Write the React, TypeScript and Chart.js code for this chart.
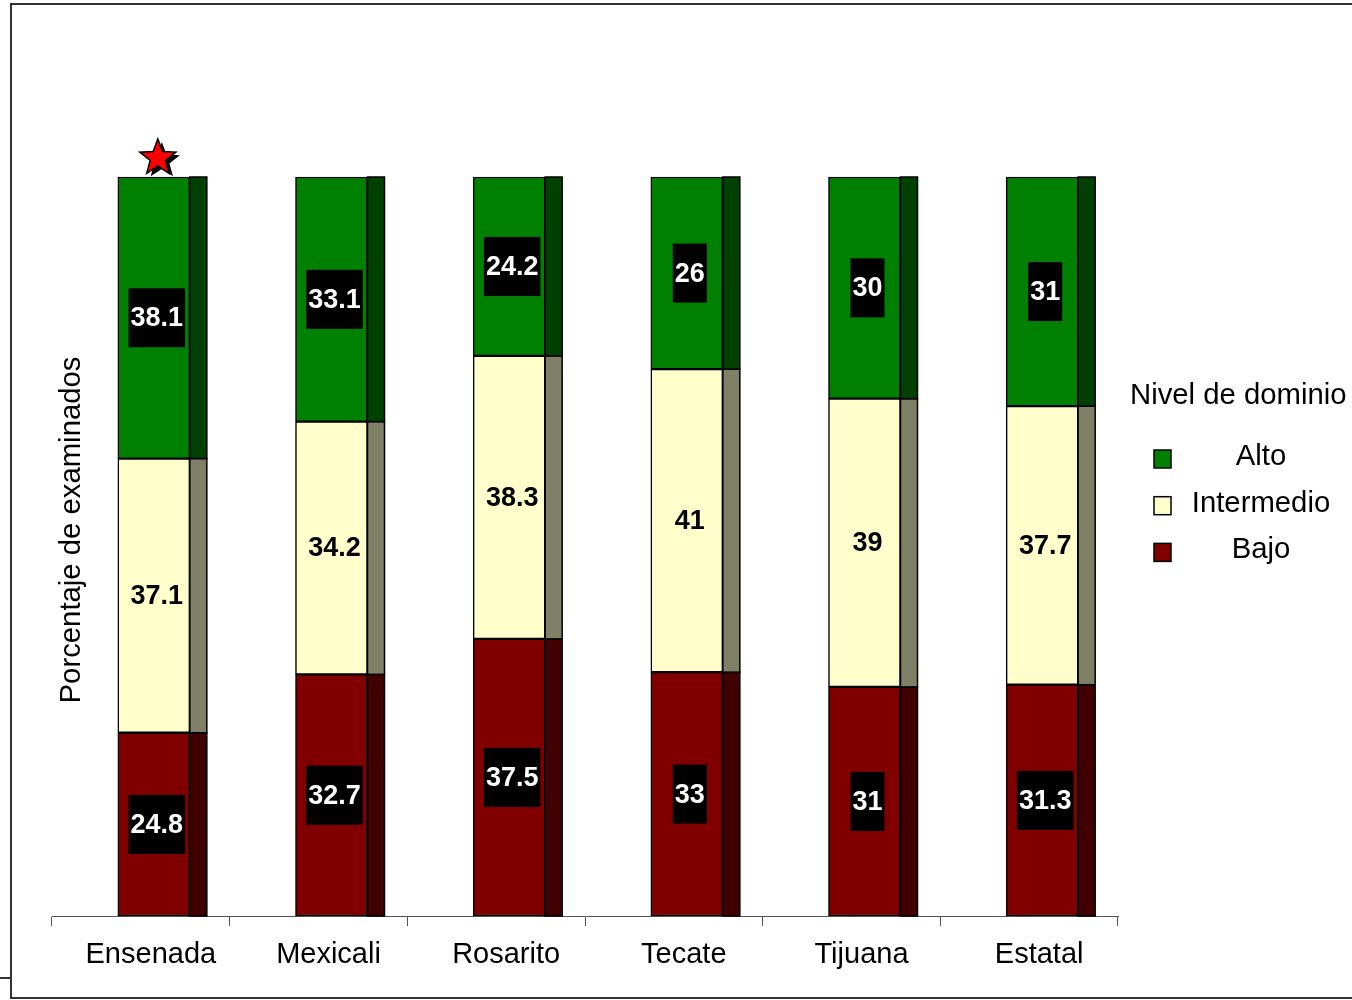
import React, { useEffect, useRef } from "react";
import { Chart, registerables } from "chart.js";

Chart.register(...registerables);

// ---------- data ----------
const categories = ["Ensenada", "Mexicali", "Rosarito", "Tecate", "Tijuana", "Estatal"];
const seriesNames = ["Bajo", "Intermedio", "Alto"];
const bajo = [24.8, 32.7, 37.5, 33, 31, 31.3];
const intermedio = [37.1, 34.2, 38.3, 41, 39, 37.7];
const alto = [38.1, 33.1, 24.2, 26, 30, 31];
const starredCategories = ["Ensenada"];
const legendTitle = "Nivel de dominio";
const yAxisTitle = "Porcentaje de examinados";
const yMin = 0;
const yMax = 100;

// ---------- styles ----------
const FONT = '"Liberation Sans", Arial, Helvetica, sans-serif';
const frontColors = ["#800000", "#FFFFCC", "#008000"];
const sideColors = ["#400000", "#808066", "#004000"];
const labelBoxed = [true, false, true];
const BAR_SHIFT = 13;
const SIDE_W = 17;
const BAR_W = 72;

function drawStar(ctx: CanvasRenderingContext2D, cx: number, cy: number, R: number, r: number) {
  ctx.beginPath();
  for (let i = 0; i < 10; i++) {
    const rad = i % 2 === 0 ? R : r;
    const a = -Math.PI / 2 + (i * Math.PI) / 5;
    const px = cx + rad * Math.cos(a);
    const py = cy + rad * Math.sin(a);
    if (i === 0) ctx.moveTo(px, py);
    else ctx.lineTo(px, py);
  }
  ctx.closePath();
}

const barDecor = {
  id: "barDecor",
  beforeDatasetsDraw(chart: any) {
    chart.ctx.save();
    chart.ctx.translate(BAR_SHIFT, 0);
  },
  afterDatasetsDraw(chart: any) {
    const ctx: CanvasRenderingContext2D = chart.ctx;
    // side faces
    chart.data.datasets.forEach((ds: any, di: number) => {
      const meta = chart.getDatasetMeta(di);
      meta.data.forEach((bar: any) => {
        const { x, y, base, width } = bar.getProps(["x", "y", "base", "width"], true);
        const right = x + width / 2;
        const top = Math.min(y, base);
        const h = Math.abs(base - y);
        ctx.fillStyle = sideColors[di];
        ctx.fillRect(right, top, SIDE_W, h);
        ctx.strokeStyle = "#000";
        ctx.lineWidth = 1.5;
        ctx.strokeRect(right, top, SIDE_W, h);
      });
    });
    // value labels
    ctx.font = `bold 27px ${FONT}`;
    ctx.textAlign = "center";
    ctx.textBaseline = "middle";
    chart.data.datasets.forEach((ds: any, di: number) => {
      const meta = chart.getDatasetMeta(di);
      meta.data.forEach((bar: any, i: number) => {
        const { x, y, base } = bar.getProps(["x", "y", "base"], true);
        const txt = String(ds.data[i]);
        const cx = x + 3;
        const cy = (y + base) / 2;
        if (labelBoxed[di]) {
          const w = ctx.measureText(txt).width + 4;
          const h = 59;
          ctx.fillStyle = "#000";
          ctx.fillRect(cx - w / 2, cy - h / 2, w, h);
          ctx.fillStyle = "#fff";
        } else {
          ctx.fillStyle = "#000";
        }
        ctx.fillText(txt, cx, cy + 1);
      });
    });
    // star marker on top of selected bars
    const topIdx = chart.data.datasets.length - 1;
    const topMeta = chart.getDatasetMeta(topIdx);
    starredCategories.forEach((c) => {
      const i = chart.data.labels.indexOf(c);
      if (i < 0) return;
      const bar = topMeta.data[i];
      const { x, y } = bar.getProps(["x", "y"], true);
      const cx = x + 4;
      const cy = y - 19;
      ctx.fillStyle = "#000";
      drawStar(ctx, cx + 4, cy + 3, 19, 8);
      ctx.fill();
      ctx.fillStyle = "#FF0000";
      ctx.strokeStyle = "#000";
      ctx.lineWidth = 1.5;
      drawStar(ctx, cx, cy, 19, 8);
      ctx.fill();
      ctx.stroke();
    });
    ctx.restore();
  },
};

const extras = {
  id: "extras",
  afterDraw(chart: any) {
    const ctx: CanvasRenderingContext2D = chart.ctx;
    // y axis title
    ctx.save();
    ctx.translate(72, 530);
    ctx.rotate(-Math.PI / 2);
    ctx.font = `29.3px ${FONT}`;
    ctx.fillStyle = "#000";
    ctx.textAlign = "center";
    ctx.textBaseline = "middle";
    ctx.fillText(yAxisTitle, 0, 0);
    ctx.restore();

    // legend
    ctx.save();
    ctx.font = `29.3px ${FONT}`;
    ctx.fillStyle = "#000";
    ctx.textAlign = "left";
    ctx.textBaseline = "middle";
    ctx.fillText(legendTitle, 1130, 396);
    const ds = chart.data.datasets.map((d: any, i: number) => ({ d, i })).reverse();
    ds.forEach(({ d }: any, k: number) => {
      const my = 459 + k * 46.7;
      ctx.fillStyle = d.backgroundColor;
      ctx.fillRect(1154, my - 9, 17, 18);
      ctx.strokeStyle = "#000";
      ctx.lineWidth = 1.5;
      ctx.strokeRect(1154, my - 9, 17, 18);
      ctx.fillStyle = "#000";
      ctx.textAlign = "center";
      ctx.fillText(d.label, 1261, my - 2);
    });
    ctx.restore();
  },
};

export default function App() {
  const ref = useRef<HTMLCanvasElement | null>(null);

  useEffect(() => {
    document.body.style.margin = "0";
    if (!ref.current) return;
    const series = [bajo, intermedio, alto];
    const chart = new Chart(ref.current, {
      type: "bar",
      data: {
        labels: categories,
        datasets: series.map((vals, i) => ({
          label: seriesNames[i],
          data: vals,
          backgroundColor: frontColors[i],
          borderColor: "#000",
          borderWidth: 1.5,
          borderSkipped: false,
          barThickness: BAR_W,
          clip: false as any,
        })),
      },
      options: {
        animation: false,
        responsive: false,
        devicePixelRatio: 1,
        layout: { padding: { left: 52, right: 234, top: 177, bottom: 0 } },
        plugins: {
          legend: { display: false },
          tooltip: { enabled: false },
          title: { display: false },
        },
        scales: {
          x: {
            stacked: true,
            afterFit: (scale: any) => {
              scale.height = 84;
            },
            grid: {
              offset: true,
              drawOnChartArea: false,
              drawTicks: true,
              tickLength: 10,
              color: "#555",
              lineWidth: 1,
            },
            border: { display: true, color: "#555", width: 1 },
            ticks: {
              color: "#000",
              font: { family: FONT, size: 29 },
              padding: 12,
              labelOffset: 10,
              maxRotation: 0,
              autoSkip: false,
            },
          },
          y: {
            stacked: true,
            display: false,
            min: yMin,
            max: yMax,
          },
        },
      },
      plugins: [barDecor, extras],
    } as any);
    return () => chart.destroy();
  }, []);

  return (
    <div style={{ position: "absolute", left: 0, top: 0, width: 1352, height: 1000, background: "#fff" }}>
      <canvas ref={ref} width={1352} height={1000} style={{ position: "absolute", left: 0, top: 0, width: 1352, height: 1000 }} />
      <div
        style={{
          position: "absolute",
          left: 10,
          top: 3,
          width: 1342,
          height: 996,
          borderTop: "2px solid #333",
          borderLeft: "2px solid #333",
          borderBottom: "2px solid #333",
          boxSizing: "border-box",
          pointerEvents: "none",
        }}
      />
      <div style={{ position: "absolute", left: 0, top: 977, width: 11, height: 2, background: "#333" }} />
    </div>
  );
}
